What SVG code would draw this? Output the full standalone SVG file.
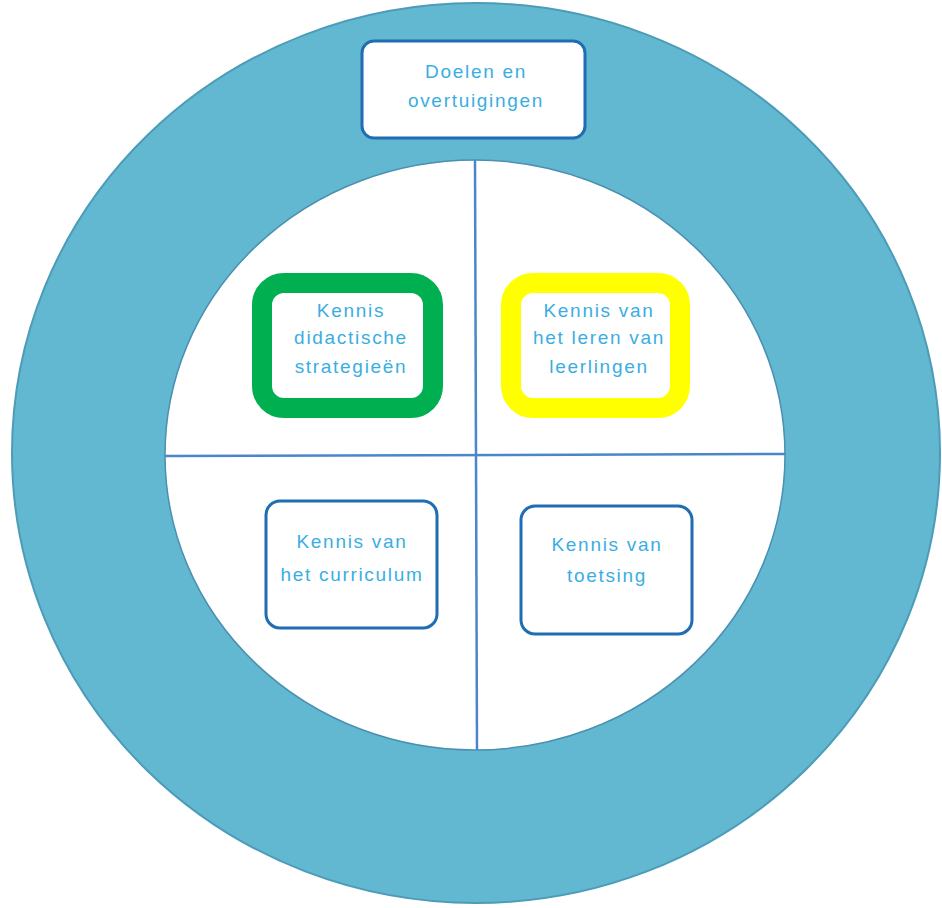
<svg xmlns="http://www.w3.org/2000/svg" width="942" height="908" viewBox="0 0 942 908">
<style>
.t{font-family:"Liberation Sans",Arial,sans-serif;font-size:19px;letter-spacing:1.7px;fill:#3aaee2;text-anchor:middle}
.box{fill:#ffffff;stroke:#1f6db3;stroke-width:3}
.div{stroke:#4a86c8;stroke-width:2.5;fill:none}
</style>
<rect width="942" height="908" fill="#ffffff"/>
<g id="ring">
<ellipse cx="476" cy="453" rx="464" ry="450" fill="#62b7d1" stroke="#4c9cb8" stroke-width="2"/>
<ellipse cx="475" cy="455" rx="310" ry="295" fill="#ffffff" stroke="#4a90b0" stroke-width="1.5"/>
</g>
<g id="connectors">
<line class="div" x1="475" y1="160" x2="477" y2="750"/>
<line class="div" x1="165" y1="456" x2="785" y2="454"/>
</g>
<g id="doelen">
<rect class="box" x="362" y="41" width="223" height="97" rx="12"/>
<text class="t" x="476" y="78">Doelen en</text>
<text class="t" x="476" y="107">overtuigingen</text>
</g>
<g id="didactisch">
<rect x="262" y="283" width="171" height="125" rx="22" fill="#ffffff" stroke="#00b050" stroke-width="20"/>
<text class="t" x="351" y="317">Kennis</text>
<text class="t" x="351" y="344">didactische</text>
<text class="t" x="351" y="373">strategieën</text>
</g>
<g id="leren">
<rect x="511" y="283" width="169" height="125" rx="22" fill="#ffffff" stroke="#ffff00" stroke-width="20"/>
<text class="t" x="599" y="317">Kennis van</text>
<text class="t" x="599" y="344">het leren van</text>
<text class="t" x="599" y="373">leerlingen</text>
</g>
<g id="curriculum">
<rect class="box" x="266" y="501" width="171" height="127" rx="14"/>
<text class="t" x="352" y="548">Kennis van</text>
<text class="t" x="352" y="581">het curriculum</text>
</g>
<g id="toetsing">
<rect class="box" x="521" y="506" width="171" height="128" rx="14"/>
<text class="t" x="607" y="551">Kennis van</text>
<text class="t" x="607" y="582">toetsing</text>
</g>
</svg>
